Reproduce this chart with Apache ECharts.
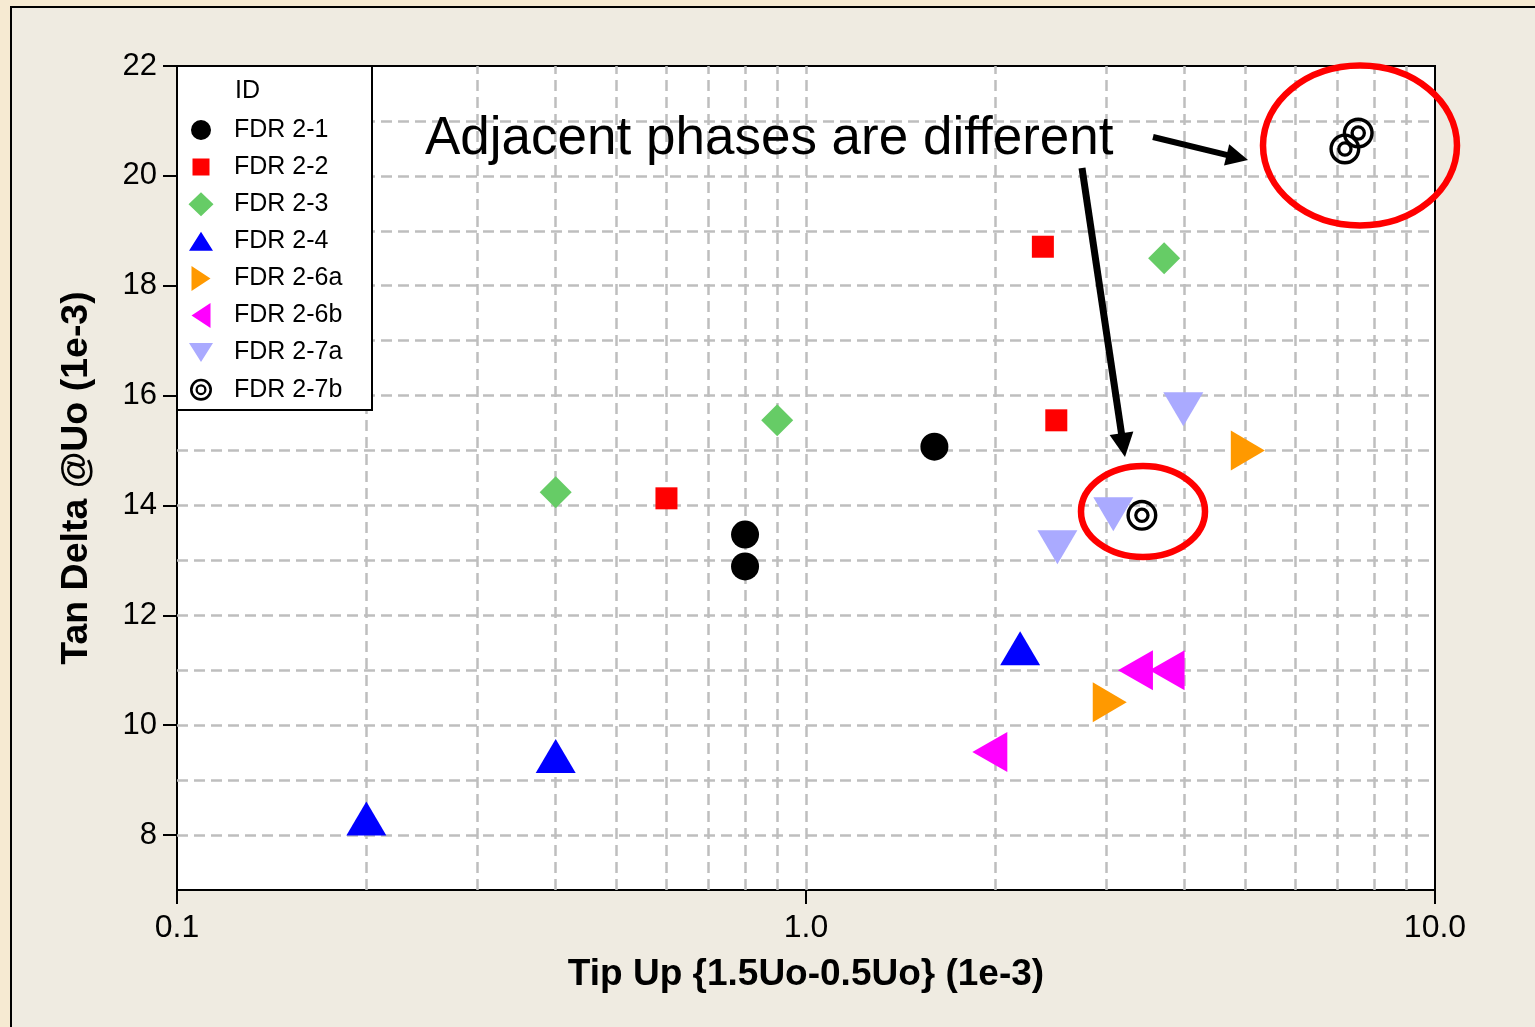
<!DOCTYPE html>
<html><head><meta charset="utf-8">
<script src="https://cdn.jsdelivr.net/npm/echarts@6/dist/echarts.min.js"></script>
<style>
html,body{margin:0;padding:0;width:1535px;height:1027px;overflow:hidden;background:#F6EAD2;}
#panel{position:absolute;left:10px;top:6px;width:1540px;height:1040px;background:#EFEBE1;border:2px solid #000;box-sizing:border-box;}
#chart{position:absolute;left:0;top:0;width:1535px;height:1027px;}
</style></head><body><div id="panel"></div><div id="chart"></div>
<script>
// ---- data ----
const seriesNames = ['FDR 2-1','FDR 2-2','FDR 2-3','FDR 2-4','FDR 2-6a','FDR 2-6b','FDR 2-7a','FDR 2-7b'];
const fdr21X = [1.60, 0.80, 0.80];   const fdr21Y = [15.07, 13.47, 12.89];
const fdr22X = [2.38, 2.50, 0.60];   const fdr22Y = [18.71, 15.55, 14.13];
const fdr23X = [3.71, 0.90, 0.40];   const fdr23Y = [18.50, 15.55, 14.24];
const fdr24X = [2.19, 0.40, 0.20];   const fdr24Y = [11.40, 9.44, 8.30];
const fdr26aX = [5.04, 3.04];        const fdr26aY = [15.00, 10.42];
const fdr26bX = [1.96, 3.34, 3.75];  const fdr26bY = [9.51, 11.00, 11.00];
const fdr27aX = [3.98, 3.08, 2.51];  const fdr27aY = [15.75, 13.84, 13.24];
const fdr27bX = [3.42, 7.19, 7.55];  const fdr27bY = [13.82, 20.49, 20.78];
const xTickLabels = [0.1, 1, 10];
const xGridValues = [0.2,0.3,0.4,0.5,0.6,0.7,0.8,0.9,1,2,3,4,5,6,7,8,9];
const yTickValues = [8,10,12,14,16,18,20,22];
const yGridValues = [8,9,10,11,12,13,14,15,16,17,18,19,20,21];
const annotationText = 'Adjacent phases are different';

const FONT = 'Liberation Sans, Arial, sans-serif';
const pts = (xs, ys) => xs.map((x, i) => [x, ys[i]]);

// symbols
const TRI_UP = 'path://M0.5,0 L1,1 L0,1 Z';
const TRI_DOWN = 'path://M0,0 L1,0 L0.5,1 Z';
const TRI_RIGHT = 'path://M0,0 L1,0.5 L0,1 Z';
const TRI_LEFT = 'path://M1,0 L1,1 L0,0.5 Z';
function ring(r1, r2) {
  return 'M0,' + (-r1) + ' A' + r1 + ',' + r1 + ' 0 1,1 0,' + r1 + ' A' + r1 + ',' + r1 + ' 0 1,1 0,' + (-r1) + ' Z ' +
         'M0,' + (-r2) + ' A' + r2 + ',' + r2 + ' 0 1,0 0,' + r2 + ' A' + r2 + ',' + r2 + ' 0 1,0 0,' + (-r2) + ' Z ';
}
const BULLSEYE = 'path://' + ring(1, 0.78) + ring(0.5, 0.29);

// legend icons in a 26x26 box (corner points fix the box)
const BOX = 'M0,0 L0,0 Z M26,26 L26,26 Z ';
function legRing(cx, cy, r1, r2) {
  return 'M' + cx + ',' + (cy - r1) + ' A' + r1 + ',' + r1 + ' 0 1,1 ' + cx + ',' + (cy + r1) + ' A' + r1 + ',' + r1 + ' 0 1,1 ' + cx + ',' + (cy - r1) + ' Z ' +
         'M' + cx + ',' + (cy - r2) + ' A' + r2 + ',' + r2 + ' 0 1,0 ' + cx + ',' + (cy + r2) + ' A' + r2 + ',' + r2 + ' 0 1,0 ' + cx + ',' + (cy - r2) + ' Z ';
}
const legendIcons = [
  'path://' + BOX + 'M3,13 A10,10 0 1,1 23,13 A10,10 0 1,1 3,13 Z',
  'path://' + BOX + 'M4.5,4.5 L21.5,4.5 L21.5,21.5 L4.5,21.5 Z',
  'path://' + BOX + 'M13,1 L25.5,13 L13,25 L0.5,13 Z',
  'path://' + BOX + 'M13,3.5 L25,22.5 L1,22.5 Z',
  'path://' + BOX + 'M3.5,0.5 L22.5,13 L3.5,25.5 Z',
  'path://' + BOX + 'M22.5,0.5 L22.5,25.5 L3.5,13 Z',
  'path://' + BOX + 'M1,3.5 L25,3.5 L13,22.5 Z',
  'path://' + BOX + legRing(13, 13, 11, 8.4) + legRing(13, 13, 5.5, 3.2)
];

const seriesDefs = [
  { data: pts(fdr21X, fdr21Y), symbol: 'circle', size: 28, color: '#000000' },
  { data: pts(fdr22X, fdr22Y), symbol: 'rect', size: 22, color: '#FF0000' },
  { data: pts(fdr23X, fdr23Y), symbol: 'diamond', size: 32, color: '#66CC66' },
  { data: pts(fdr24X, fdr24Y), symbol: TRI_UP, size: [40, 34], color: '#0000FF' },
  { data: pts(fdr26aX, fdr26aY), symbol: TRI_RIGHT, size: [34, 40], color: '#FF9900' },
  { data: pts(fdr26bX, fdr26bY), symbol: TRI_LEFT, size: [35, 40], color: '#FF00FF' },
  { data: pts(fdr27aX, fdr27aY), symbol: TRI_DOWN, size: [40, 34], color: '#AAAAFF' },
  { data: pts(fdr27bX, fdr27bY), symbol: BULLSEYE, size: 31, color: '#000000' }
];

const gridLine = { color: '#BEBEBE', width: 2.5, type: [11, 6] };
const series = [{
  type: 'scatter', name: '__grid', data: [], z: 1, silent: true,
  markLine: {
    z: 1, silent: true, symbol: ['none', 'none'], animation: false,
    label: { show: false }, lineStyle: gridLine,
    emphasis: { disabled: true },
    data: xGridValues.map(v => ({ xAxis: v })).concat(yGridValues.map(v => ({ yAxis: v })))
  }
}].concat(seriesDefs.map((d, i) => ({
  type: 'scatter', name: seriesNames[i], data: d.data, symbol: d.symbol, symbolSize: d.size,
  itemStyle: { color: d.color, opacity: 1 }, z: 5
})));

function arrowEls(x1, y1, x2, y2, lw, hl, hw) {
  const dx = x2 - x1, dy = y2 - y1, L = Math.hypot(dx, dy), ux = dx / L, uy = dy / L;
  const bx = x2 - ux * hl, by = y2 - uy * hl, px = -uy, py = ux;
  return [
    { type: 'line', z: 20, shape: { x1: x1, y1: y1, x2: bx + ux * 2, y2: by + uy * 2 }, style: { stroke: '#000', lineWidth: lw } },
    { type: 'polygon', z: 20, shape: { points: [[x2, y2], [bx + px * hw / 2, by + py * hw / 2], [bx - px * hw / 2, by - py * hw / 2]] }, style: { fill: '#000' } }
  ];
}

const chart = echarts.init(document.getElementById('chart'), null, { renderer: 'canvas' });
chart.setOption({
  animation: false,
  backgroundColor: 'transparent',
  grid: { left: 177, top: 66, right: 100, bottom: 137, show: true, backgroundColor: '#FFFFFF', borderColor: '#000', borderWidth: 2 },
  xAxis: {
    type: 'log', logBase: 10, min: 0.1, max: 10,
    name: 'Tip Up {1.5Uo-0.5Uo} (1e-3)', nameLocation: 'middle', nameGap: 66,
    nameTextStyle: { fontFamily: FONT, fontSize: 37, fontWeight: 'bold', color: '#000' },
    axisLine: { show: true, lineStyle: { color: '#000', width: 2 } },
    axisTick: { show: true, inside: false, length: 14, lineStyle: { color: '#000', width: 2 } },
    axisLabel: { fontFamily: FONT, fontSize: 32, color: '#000', margin: 22,
      formatter: v => (xTickLabels.indexOf(+(+v).toPrecision(6)) >= 0 ? (+v).toFixed(1) : '') },
    splitLine: { show: false }, minorTick: { show: false }
  },
  yAxis: {
    type: 'value', min: 7, max: 22, interval: 1,
    name: 'Tan Delta @Uo (1e-3)', nameLocation: 'middle', nameGap: 81, nameRotate: 90,
    nameTextStyle: { fontFamily: FONT, fontSize: 37.5, fontWeight: 'bold', color: '#000' },
    axisLine: { show: true, lineStyle: { color: '#000', width: 2 } },
    axisTick: { show: true, inside: false, length: 14, customValues: yTickValues, lineStyle: { color: '#000', width: 2 } },
    axisLabel: { fontFamily: FONT, fontSize: 31, color: '#000', margin: 20, customValues: yTickValues },
    splitLine: { show: false }
  },
  legend: {
    orient: 'vertical', left: 177, top: 66, padding: [51, 10, 10, 11],
    itemWidth: 26, itemHeight: 26, itemGap: 11.1, selectedMode: false,
    textStyle: { fontFamily: FONT, fontSize: 25, color: '#000', lineHeight: 26, padding: [0, 0, 0, 15] },
    data: seriesNames.map((n, i) => ({ name: n, icon: legendIcons[i] })),
    z: 8
  },
  graphic: [
    { type: 'rect', z: 7, shape: { x: 177, y: 66, width: 195, height: 344 }, style: { fill: '#FFFFFF', stroke: '#000', lineWidth: 2 } },
    { type: 'text', z: 9, x: 235, y: 91, style: { text: 'ID', fontFamily: FONT, fontSize: 25, fill: '#000', verticalAlign: 'middle' } },
    { type: 'text', z: 20, x: 425, y: 139, style: { text: annotationText, fontFamily: FONT, fontSize: 53, fill: '#000', verticalAlign: 'middle' } },
    { type: 'ellipse', z: 20, shape: { cx: 1360, cy: 145.5, rx: 97, ry: 80 }, style: { fill: null, stroke: '#FF0000', lineWidth: 6.5 } },
    { type: 'ellipse', z: 20, shape: { cx: 1143, cy: 511.5, rx: 62, ry: 45.5 }, style: { fill: null, stroke: '#FF0000', lineWidth: 6.5 } }
  ].concat(arrowEls(1153, 137, 1248, 160, 6, 22, 22)).concat(arrowEls(1082, 168, 1125, 457, 7, 24, 24)),
  series: series
});
</script></body></html>
